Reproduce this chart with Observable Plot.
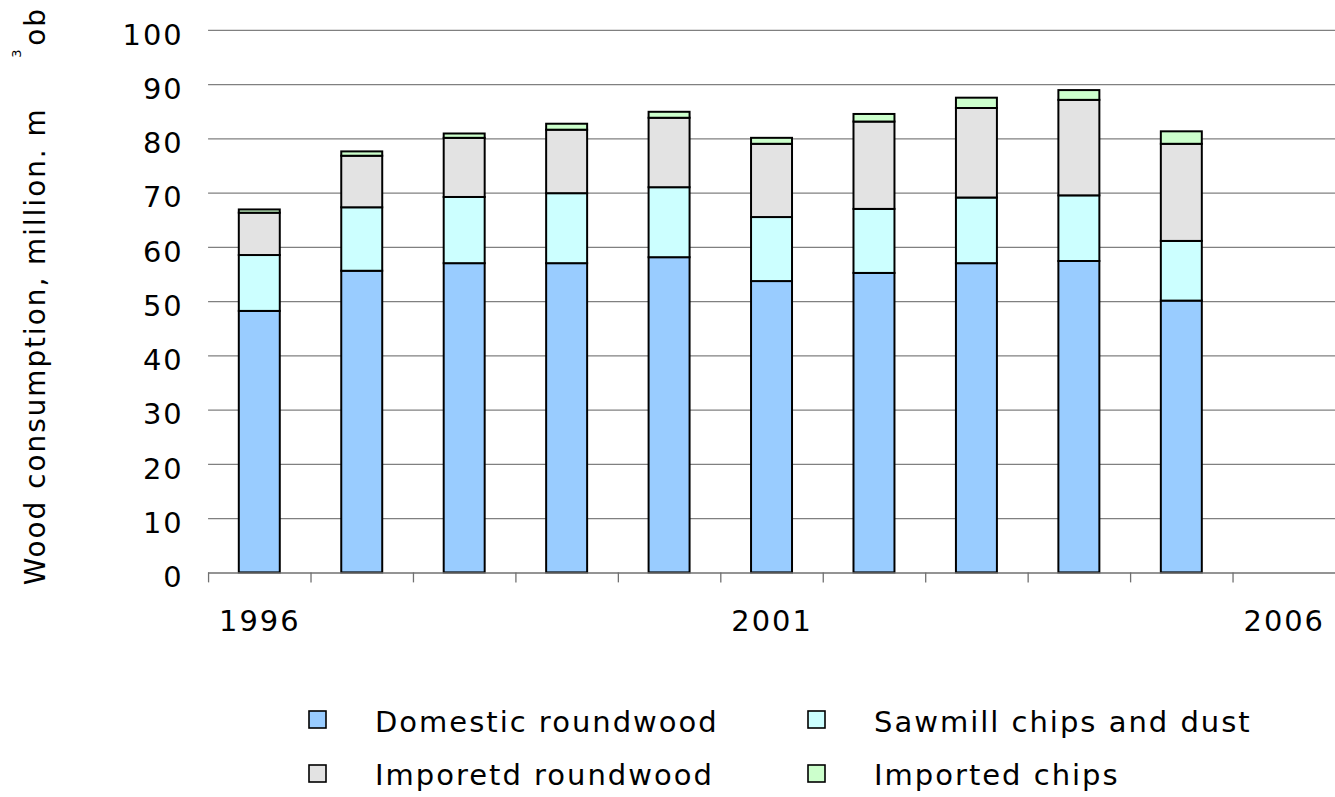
<!DOCTYPE html>
<html>
<head>
<meta charset="utf-8">
<script src="https://cdn.jsdelivr.net/npm/d3@7"></script>
<script src="https://cdn.jsdelivr.net/npm/@observablehq/plot@0.6"></script>
<style>
html, body { margin: 0; padding: 0; overflow: hidden; background: #fff; width: 1335px; height: 797px; }
#wrap { position: relative; width: 1335px; height: 797px; overflow: hidden; }
#wrap svg { display: block; }
</style>
</head>
<body>
<div id="wrap"></div>
<script>
// ---- data ----
const years = [1996, 1997, 1998, 1999, 2000, 2001, 2002, 2003, 2004, 2005];
const domesticRoundwood = [48.2, 55.6, 57.0, 57.0, 58.1, 53.7, 55.2, 57.0, 57.4, 50.1];
const sawmillChips      = [10.3, 11.7, 12.2, 12.9, 12.9, 11.8, 11.8, 12.1, 12.1, 11.0];
const importedRoundwood = [7.8, 9.5, 10.9, 11.7, 12.8, 13.5, 16.1, 16.5, 17.6, 17.9];
const importedChips     = [0.6, 0.8, 0.8, 1.1, 1.1, 1.1, 1.4, 1.9, 1.8, 2.3];
const seriesNames = ["Domestic roundwood", "Sawmill chips and dust", "Imporetd roundwood", "Imported chips"];
const seriesColors = ["#99CCFF", "#CCFFFF", "#E3E3E3", "#CCFFCC"];
const yTicks = [0, 10, 20, 30, 40, 50, 60, 70, 80, 90, 100];
const xLabelYears = [1996, 2001, 2006];
const yTitle = "Wood consumption, million. m";
const yTitleSup = "3";
const yTitleEnd = "ob";

const seriesValues = [domesticRoundwood, sawmillChips, importedRoundwood, importedChips];
const table = years.flatMap((yr, i) =>
  seriesValues.map((vals, k) => ({year: yr, series: seriesNames[k], value: vals[i]}))
);
const boundaries = years.map(y => y - 0.5).concat([years[years.length - 1] + 0.5]);

const font = "'DejaVu Sans', Verdana, sans-serif";

const chart = Plot.plot({
  width: 1341,
  height: 690,
  marginLeft: 209,
  marginRight: 0,
  marginTop: 30,
  marginBottom: 115,
  style: {fontFamily: font, fontSize: "29px", letterSpacing: "2px", color: "#000", background: "#fff", overflow: "visible"},
  x: {domain: [1995.5, 2006.5], axis: null},
  y: {domain: [0, 100], axis: null},
  color: {domain: seriesNames, range: seriesColors},
  marks: [
    Plot.gridY(yTicks.filter(t => t > 0), {stroke: "#808080", strokeOpacity: 1, strokeWidth: 1.3}),
    Plot.rectY(table, {x1: d => d.year - 0.2, x2: d => d.year + 0.2, y: "value", fill: "series", stroke: "#000", strokeWidth: 2}),
    Plot.ruleY([0], {stroke: "#707070", strokeWidth: 1.5}),
    Plot.axisY(yTicks, {tickSize: 0, tickPadding: 25, fontSize: 29, dy: 5, label: null, tickFormat: d => String(d)}),
    Plot.axisX(boundaries, {tickSize: 10, tickFormat: () => "", stroke: "#707070", strokeWidth: 1.3, label: null}),
    Plot.axisX(xLabelYears, {tickSize: 0, tickPadding: 38, fontSize: 29, tickFormat: d => String(d), label: null})
  ]
});

const svg = d3.select(chart);
const g = svg.append("g").attr("font-family", font).attr("fill", "#000").attr("text-anchor", "start");
g.append("text")
  .attr("transform", "rotate(-90)")
  .attr("text-anchor", "start")
  .attr("x", -588).attr("y", 45)
  .attr("font-size", 28).attr("letter-spacing", "2px")
  .text(yTitle);
g.append("text")
  .attr("transform", "rotate(-90)")
  .attr("text-anchor", "start")
  .attr("x", -58).attr("y", 21)
  .attr("font-size", 13)
  .text(yTitleSup);
g.append("text")
  .attr("transform", "rotate(-90)")
  .attr("text-anchor", "start")
  .attr("x", -46).attr("y", 45)
  .attr("font-size", 28).attr("letter-spacing", "2px")
  .text(yTitleEnd);

document.getElementById("wrap").appendChild(chart);

// ---- legend (below the chart svg) ----
const legend = d3.create("svg")
  .attr("width", 1335).attr("height", 107)
  .attr("font-family", font);
const cols = [309, 808];
const rows = [[24, 45], [78, 98]];
seriesNames.forEach((name, i) => {
  const cx = cols[i % 2];
  const [sq, base] = rows[Math.floor(i / 2)];
  legend.append("rect")
    .attr("x", cx).attr("y", sq).attr("width", 17).attr("height", 17)
    .attr("fill", seriesColors[i]).attr("stroke", "#000").attr("stroke-width", 1.6);
  legend.append("text")
    .attr("x", cx + 66).attr("y", base)
    .attr("font-size", 29).attr("letter-spacing", "2px")
    .attr("fill", "#000")
    .text(name);
});
document.getElementById("wrap").appendChild(legend.node());
</script>
</body>
</html>
